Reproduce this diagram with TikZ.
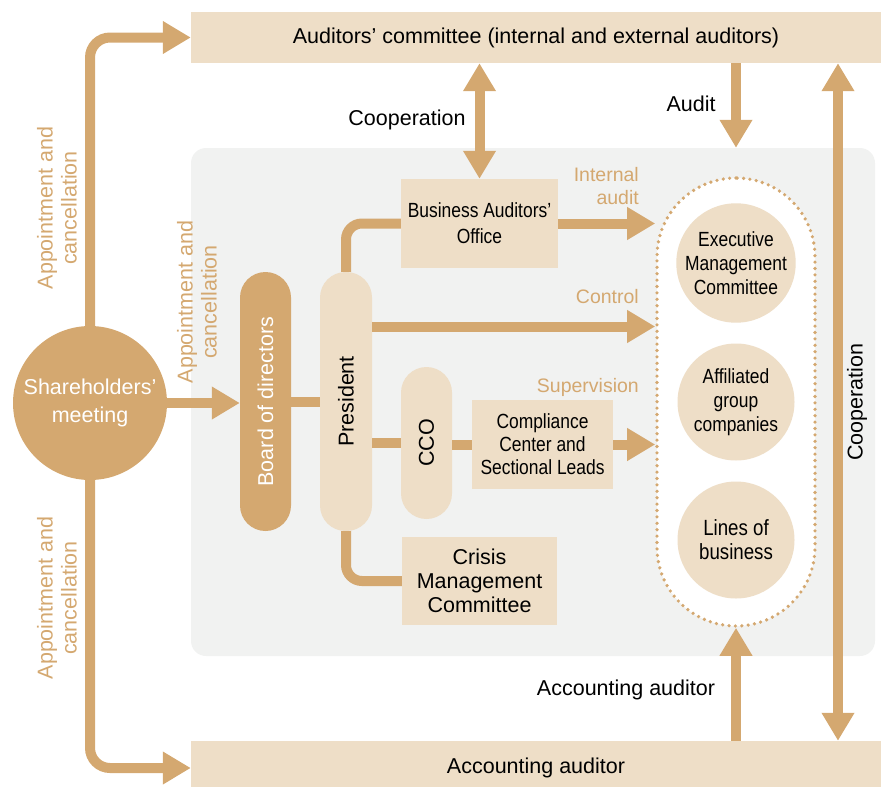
\documentclass[tikz,border=0pt]{standalone}
\usepackage{fontspec}
\setmainfont{Liberation Sans}
\newfontfamily\narrow[FakeStretch=0.85]{Liberation Sans}
\usepackage{tikz}
\usetikzlibrary{arrows.meta,calc,positioning}
\definecolor{tan}{HTML}{D4A870}
\definecolor{sand}{HTML}{EEDEC7}
\definecolor{fog}{HTML}{F1F2F1}
\tikzset{
  >={Triangle[length=28pt,width=31pt]}
}

\begin{document}
\begin{tikzpicture}[
    x=1pt, y=-1pt,
    big/.style={font=\fontsize{21.5}{24}\selectfont},
    cond/.style={font=\narrow\fontsize{20.5}{24}\selectfont},
    flow/.style={draw=tan,line width=10pt},
    band/.style={rectangle,fill=sand,minimum width=690pt,inner sep=0pt,big},
    rekt/.style={rectangle,fill=sand,inner sep=0pt,align=center},
    pill/.style={rectangle,rounded corners=25.5pt,minimum width=51pt,minimum height=259pt,inner sep=0pt,big},
    disc/.style={circle,fill=sand,minimum size=117pt,inner sep=0pt,align=center,cond},
    note/.style={text=tan,align=center,inner sep=0pt,big},
    say/.style={align=center,inner sep=0pt,big}
  ]
    \useasboundingbox (0,0) rectangle (881,787);

    \node (BG) at (533,402) [rectangle,fill=fog,rounded corners=15pt,minimum width=684pt,minimum height=508pt] {};
    \node (AUD) at (536,37.5) [band,minimum height=51pt] {Auditors’ committee (internal and external auditors)};
    \node (ACC) at (536,768) [band,minimum height=54pt] {Accounting auditor};

    \node (SH) at (90,403) [circle,fill=tan,text=white,minimum size=154pt,inner sep=0pt,align=center,font=\fontsize{21.5}{28}\selectfont] {Shareholders’\\meeting};
    \node (BOD) at (265.5,401.5) [pill,fill=tan,text=white] {\rotatebox{90}{Board of directors}};
    \node (PRES) at (346,401.5) [pill,fill=sand,minimum width=52pt] {\rotatebox{90}{President}};
    \node (CCO) at (426.5,443) [pill,fill=sand,minimum height=152pt] {\rotatebox{90}{CCO}};

    \node (BAO) at (479.5,223.5) [rekt,minimum width=157pt,minimum height=89pt,font=\narrow\fontsize{20.5}{26}\selectfont] {Business Auditors’\\Office};
    \node (CCSL) at (542.5,444.5) [rekt,minimum width=141pt,minimum height=89pt,font=\narrow\fontsize{20.5}{23}\selectfont] {Compliance\\Center and\\Sectional Leads};
    \node (CMC) at (479.5,581) [rekt,minimum width=155pt,minimum height=88pt,big] {Crisis\\Management\\Committee};

    \node (GRP) at (736,402) [rectangle,rounded corners=79pt,minimum width=158pt,minimum height=448pt,draw=tan,line width=3.6pt,dash pattern=on 0pt off 6.4pt,line cap=round,fill=white] {};
    \node (EMC) at (736,263) [disc] {Executive\\Management\\Committee};
    \node (AFF) at (736,402) [disc] {Affiliated\\group\\companies};
    \node (LOB) at (736,540) [disc,font=\narrow\fontsize{22}{24}\selectfont] {Lines of\\business};

    \node (L1) at (57,208) [note,rotate=90] {Appointment and\\cancellation};
    \node (L2) at (197,302) [note,rotate=90] {Appointment and\\cancellation};
    \node (L3) at (57,598) [note,rotate=90] {Appointment and\\cancellation};
    \node (L4) at (639,186) [note,anchor=east,align=right,font=\fontsize{19.5}{23.5}\selectfont] {Internal\\audit};
    \node (L5) at (639,297) [note,anchor=east,font=\fontsize{19.5}{23.5}\selectfont] {Control};
    \node (L6) at (639,387) [note,anchor=east,font=\fontsize{19.5}{23.5}\selectfont] {Supervision};
    \node (L7) at (407,120) [say] {Cooperation};
    \node (L8) at (691,104) [say] {Audit};
    \node (L9) at (626,690) [say] {Accounting auditor};
    \node (L10) at (857,402) [say,rotate=90] {Cooperation};
    \coordinate (coop) at (838,402);

    \draw[flow,->,rounded corners=20pt] (SH.north) |- (AUD.west);
    \draw[flow,->,rounded corners=20pt] (SH.south) |- (ACC.west);
    \draw[flow,->] (SH.east) -- (SH.east -| BOD.west);
    \draw[flow] (BOD) -- (PRES);
    \draw[flow,rounded corners=16pt] (PRES.north) |- (BAO.west);
    \draw[flow,rounded corners=16pt] (PRES.south) |- (CMC.west);
    \draw[flow] (PRES.east |- CCO.west) -- (CCO.west);
    \draw[flow] (CCO.east |- CCSL.west) -- (CCSL.west);
    \draw[flow,->] (BAO.east) -- (BAO.east -| GRP.west);
    \path ([yshift=75pt]PRES.east) coordinate (ctl);
    \draw[flow,->] (ctl) -- (ctl -| GRP.west);
    \draw[flow,->] (CCSL.east) -- (CCSL.east -| GRP.west);
    \draw[flow,<->] (AUD.south -| BAO.north) -- (BAO.north);
    \draw[flow,->] (AUD.south -| EMC) -- (BG.north -| EMC);
    \draw[flow,->] (ACC.north -| GRP.south) -- (GRP.south);
    \draw[flow,<->] (AUD.south -| coop) -- (ACC.north -| coop);

  \end{tikzpicture}
\end{document}
